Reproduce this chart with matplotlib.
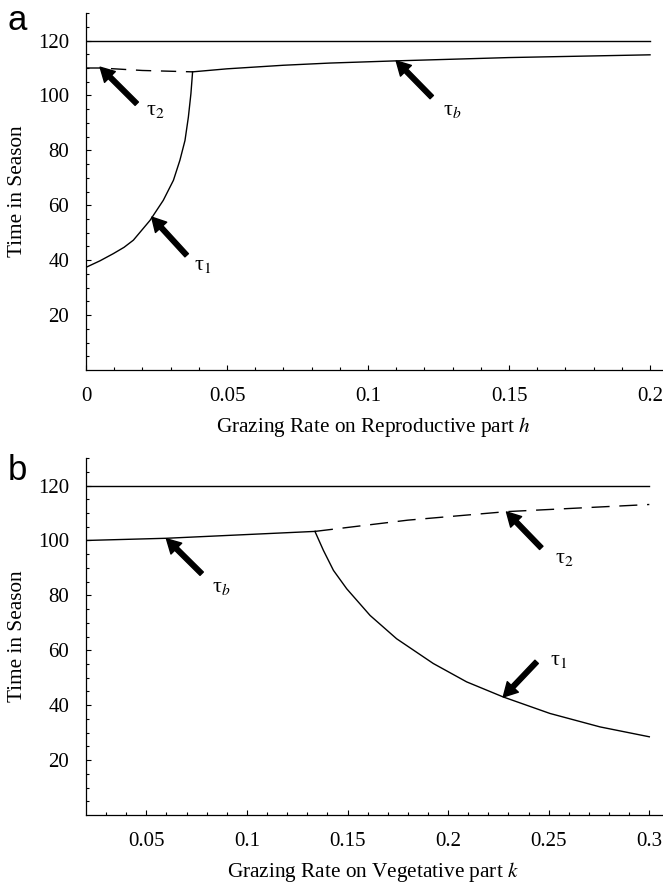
import numpy as np
import matplotlib
matplotlib.use('Agg')
from matplotlib import pyplot as plt

plt.rcParams['font.family'] = ['Liberation Serif', 'DejaVu Serif']
plt.rcParams['mathtext.fontset'] = 'stix'

# season length
t_end = 120

# panel a : grazing on reproductive part h
h_tau1 = [0, 0.005, 0.0097, 0.0135, 0.0168, 0.0227, 0.0274, 0.031, 0.0333, 0.0351,
          0.0363, 0.0372, 0.0378]
tau1_a = [37.4, 39.8, 42.4, 44.7, 47.3, 54.5, 61.8, 69.1, 76.4, 83.6,
          92.1, 100.6, 108.6]
h_tau2 = [0, 0.005, 0.02, 0.0378]
tau2_a = [110.0, 110.0, 109.1, 108.6]
h_taub = [0.0378, 0.05, 0.07, 0.0865, 0.11, 0.15, 0.2]
taub_a = [108.6, 109.7, 111.0, 111.8, 112.6, 113.8, 114.8]

# panel b : grazing on vegetative part k
k_taub = [0.02, 0.06, 0.1338]
taub_b = [100.0, 100.8, 103.3]
k_tau2 = [0.1338, 0.18, 0.229, 0.3]
tau2_b = [103.3, 107.4, 110.5, 113.1]
k_tau1 = [0.1338, 0.138, 0.143, 0.1496, 0.1612, 0.1744, 0.1926, 0.2092,
          0.2274, 0.2506, 0.2755, 0.3]
tau1_b = [103.3, 96.4, 89.1, 82.4, 72.7, 64.2, 55.2, 48.5, 43.0, 37.0, 32.1, 28.5]

fig = plt.figure(figsize=(6.63, 8.84), dpi=100)
ax_a = fig.add_axes([0.1297, 0.5814, 0.8703, 0.4038])
ax_b = fig.add_axes([0.1297, 0.0780, 0.8703, 0.4038])

arrow = dict(width=3.4, headwidth=11, headlength=10, facecolor='black',
             edgecolor='black', shrink=0)


def style(ax, xlo, xhi, major, minor):
    ax.set_xlim(xlo, xhi)
    ax.set_ylim(0, 130)
    for s in ['top', 'right']:
        ax.spines[s].set_visible(False)
    for s in ['left', 'bottom']:
        ax.spines[s].set_linewidth(0.9)
    ax.set_xticks(major)
    ax.set_xticks(minor, minor=True)
    ax.set_yticks([20, 40, 60, 80, 100, 120])
    ax.set_yticks(np.arange(5, 131, 5), minor=True)
    ax.tick_params(which='both', direction='in', labelsize=15, pad=12, width=0.8)
    ax.tick_params(which='major', length=3.5)
    ax.tick_params(which='minor', length=2)
    ax.set_ylabel('Time in Season', fontsize=15.3)
    ax.yaxis.set_label_coords(-0.118, 0.5)
    ax.yaxis.label.set_va('center')


# ---- a ----
ax = ax_a
ax.plot([0, 0.2], [t_end, t_end], color='black', lw=1.0)
ax.plot(h_tau2, tau2_a, color='black', lw=1.0, dashes=(11, 7))
ax.plot(h_tau1, tau1_a, color='black', lw=1.0)
ax.plot(h_taub, taub_a, color='black', lw=1.0)
style(ax, 0, 0.2046, [0, 0.05, 0.1, 0.15, 0.2], np.arange(0, 0.201, 0.01))
ax.set_xticklabels(['0', '0.05', '0.1', '0.15', '0.2'])
ax.set_xlabel('Grazing Rate on Reproductive part $\\mathit{h}$', fontsize=15.3)
ax.xaxis.set_label_coords(0.499, -0.16)
ax.xaxis.label.set_va('center')
ax.annotate('', xy=(0.005, 110.3), xytext=(0.018, 97), arrowprops=arrow)
ax.text(0.0245, 94.5, 'τ$_2$', fontsize=16, ha='center', va='center')
ax.annotate('', xy=(0.0233, 55.7), xytext=(0.0357, 41.8), arrowprops=arrow)
ax.text(0.0415, 38, 'τ$_1$', fontsize=16, ha='center', va='center')
ax.annotate('', xy=(0.110, 112.6), xytext=(0.1226, 99.4), arrowprops=arrow)
ax.text(0.130, 94.5, 'τ$_b$', fontsize=16, ha='center', va='center')

# ---- b ----
ax = ax_b
ax.plot([0.02, 0.3], [t_end, t_end], color='black', lw=1.0)
ax.plot(k_taub, taub_b, color='black', lw=1.0)
ax.plot(k_tau2, tau2_b, color='black', lw=1.0, dashes=(13, 7))
ax.plot(k_tau1, tau1_b, color='black', lw=1.0)
style(ax, 0.02, 0.3068, [0.05, 0.1, 0.15, 0.2, 0.25, 0.3], np.arange(0.03, 0.301, 0.01))
ax.set_xticklabels(['0.05', '0.1', '0.15', '0.2', '0.25', '0.3'])
ax.set_xlabel('Grazing Rate on Vegetative part $\\mathit{k}$', fontsize=15.3)
ax.xaxis.set_label_coords(0.497, -0.16)
ax.xaxis.label.set_va('center')
ax.annotate('', xy=(0.060, 100.6), xytext=(0.0775, 87.9), arrowprops=arrow)
ax.text(0.0875, 83, 'τ$_b$', fontsize=16, ha='center', va='center')
ax.annotate('', xy=(0.229, 110.4), xytext=(0.2463, 97.3), arrowprops=arrow)
ax.text(0.258, 93.3, 'τ$_2$', fontsize=16, ha='center', va='center')
ax.annotate('', xy=(0.2274, 43.0), xytext=(0.244, 55.8), arrowprops=arrow)
ax.text(0.255, 56.4, 'τ$_1$', fontsize=16, ha='center', va='center')

fig.text(0.026, 0.977, 'a', fontsize=25, family='Liberation Sans', ha='center', va='center')
fig.text(0.026, 0.468, 'b', fontsize=25, family='Liberation Sans', ha='center', va='center')

fig.savefig('out.png', dpi=100)
